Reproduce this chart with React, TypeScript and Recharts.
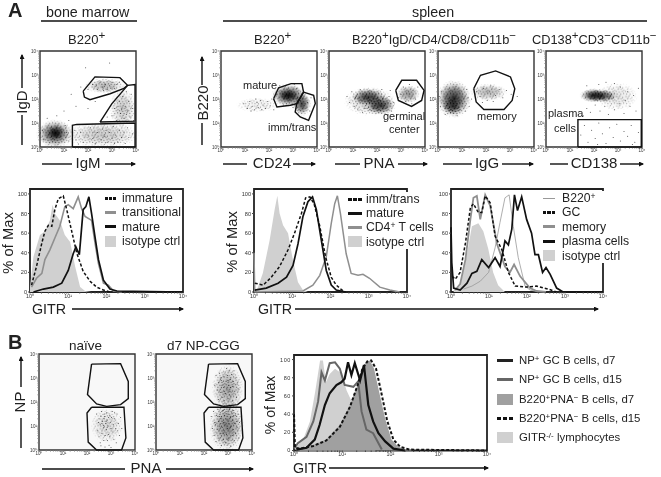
import React from 'react';
import { ScatterChart, Scatter, ComposedChart, Area, Line, XAxis, YAxis, ReferenceArea, Legend } from 'recharts';

type P = number[];
const FONT = '"Liberation Sans", Arial, sans-serif';

// ---- axis ticks (log10 of the fluorescence) ----
const decades = [0, 1, 2, 3, 4];
const decadeLabels = ['10⁰', '10¹', '10²', '10³', '10⁴'];
const minorSteps = [0.3, 0.48, 0.6, 0.7, 0.78, 0.85, 0.9, 0.95];
const pctTicks = [0, 20, 40, 60, 80, 100];

// ---- gates, as [log x, log y] ----
const gateA1Mature: P[] = [[1.8, 2.33], [2.29, 2.92], [3.33, 2.89], [3.65, 2.57], [3.47, 2.43], [2.92, 2.22], [2.08, 1.97], [1.85, 2.08], [1.8, 2.33]];
const gateA1Trans: P[] = [[2.5, 1.04], [2.99, 1.8], [3.65, 2.57], [3.96, 2.6], [3.96, 1.08], [2.5, 1.04]];
const gateA1Imm: P[] = [[1.35, 0], [1.35, 0.9], [1.53, 0.94], [3.96, 1], [3.96, 0], [1.35, 0]];
const gateA2Mature: P[] = [[2.19, 2.01], [2.4, 2.47], [2.92, 2.64], [3.37, 2.64], [3.44, 2.29], [3.16, 1.81], [2.89, 1.74], [2.33, 1.67], [2.19, 2.01]];
const gateA2Imm: P[] = [[3.44, 2.29], [3.86, 2.15], [3.93, 1.81], [3.65, 1.11], [3.3, 1.25], [3.09, 1.46], [3.16, 1.81], [3.44, 2.29]];
const gateA3: P[] = [[2.78, 2.36], [3.03, 2.78], [3.65, 2.78], [3.96, 2.36], [3.86, 1.94], [3.44, 1.69], [2.89, 1.94], [2.78, 2.36]];
const gateA4: P[] = [[1.49, 2.43], [1.77, 2.99], [2.4, 3.17], [3.02, 2.92], [3.2, 2.43], [3.09, 1.94], [2.75, 1.56], [1.91, 1.56], [1.59, 1.88], [1.49, 2.43]];
const gateA5: P[] = [[1.33, 0], [1.33, 1.14], [3.97, 1.14], [3.97, 0], [1.33, 0]];
const gateBUp: P[] = [[2.19, 3.58], [3.4, 3.6], [3.72, 2.86], [3.72, 2.14], [3.4, 1.89], [2.82, 1.82], [2.4, 1.92], [2.02, 2.31], [2.19, 3.58]];
const gateBLow: P[] = [[2.19, 1.78], [3.54, 1.78], [3.62, 0.5], [3.44, 0], [2.4, 0], [2.05, 0.33], [2.0, 1.54], [2.19, 1.78]];

// ---- density clouds: [log x, log y, spread x, spread y, darkness] ----
const cloudA1: P[] = [[0.62, 0.55, 0.72, 0.56, 0.8], [0.65, 0.58, 0.36, 0.3, 0.9], [2.6, 0.5, 1.45, 0.5, 0.22], [2.7, 2.55, 0.8, 0.3, 0.3], [3.45, 1.6, 0.52, 0.8, 0.22]];
const cloudA2: P[] = [[2.82, 2.15, 0.68, 0.46, 0.9], [2.8, 2.15, 0.4, 0.24, 0.7], [3.37, 1.8, 0.36, 0.48, 0.8], [1.5, 1.75, 0.8, 0.28, 0.06]];
const cloudA3: P[] = [[1.64, 2.08, 0.68, 0.36, 0.8], [2.13, 1.74, 0.62, 0.4, 0.85], [1.7, 1.9, 1.0, 0.56, 0.2], [3.3, 2.2, 0.46, 0.36, 0.45]];
const cloudA4: P[] = [[0.66, 2.0, 0.68, 0.74, 0.9], [0.6, 1.7, 0.4, 0.36, 0.6], [2.1, 2.28, 0.72, 0.34, 0.3]];
const cloudA5: P[] = [[2.0, 2.15, 0.56, 0.28, 0.95], [2.35, 2.13, 0.62, 0.26, 0.75], [2.95, 2.1, 0.8, 0.55, 0.1]];
const cloudB1: P[] = [[2.82, 1.02, 0.62, 0.68, 0.12]];
const cloudB2: P[] = [[2.98, 2.55, 0.62, 0.95, 0.35], [2.95, 1.0, 0.68, 1.0, 0.5]];

// ---- individual events ----
const dotsA1: P[] = [[1.5, 0.3], [1.7, 0.6], [1.8, 0.2], [2, 0.5], [2.1, 0.8], [2.2, 0.35], [2.3, 0.15], [2.4, 0.6], [2.55, 0.3], [2.6, 0.75], [2.7, 0.45], [2.8, 0.2], [2.9, 0.6], [3, 0.35], [3.05, 0.85], [3.15, 0.5], [3.25, 0.2], [3.3, 0.7], [3.4, 0.4], [3.5, 0.62], [3.55, 0.15], [3.65, 0.8], [3.7, 0.4], [3.85, 0.55], [1.45, 0.7], [1.6, 0.12], [2.25, 0.62], [2.75, 0.7], [3.1, 0.15], [3, 1.3], [3.1, 1.6], [3.2, 1.1], [3.3, 1.9], [3.35, 1.4], [3.45, 2.1], [3.5, 1.2], [3.55, 1.7], [3.6, 2.3], [3.65, 1.5], [3.7, 1.9], [3.75, 1.25], [3.8, 2.2], [3.85, 1.6], [3.9, 1.1], [2.8, 1.25], [3.25, 1.7], [3.4, 1.55], [3.6, 1.35], [2, 2.4], [2.2, 2.6], [2.4, 2.4], [2.5, 2.7], [2.6, 2.5], [2.7, 2.62], [2.8, 2.4], [2.9, 2.55], [3, 2.7], [3.1, 2.45], [3.2, 2.6], [3.3, 2.7], [2.35, 2.55], [2.65, 2.35], [2.95, 2.45], [1, 1.5], [1.3, 2.2], [1.5, 1.7], [1.7, 2.5], [2, 1.6], [2.3, 1.9], [1.9, 3.3], [2.9, 3.5], [0.7, 1.3], [1.2, 1.1], [0.3, 1.2], [1.1, 0.6], [1.2, 0.25], [0.1, 0.7], [0.15, 0.3], [1.05, 0.9]];
const dotsA2: P[] = [[0.95, 1.8], [1.1, 1.6], [1.2, 1.9], [1.3, 1.7], [1.4, 1.55], [1.5, 1.85], [1.55, 1.65], [1.65, 1.95], [1.75, 1.75], [1.85, 1.6], [1.95, 1.9], [2.05, 1.72], [2.12, 2], [1.25, 1.5], [1.45, 2], [1.7, 1.55], [2.2, 1.55], [2.45, 2.55], [2.3, 2.2], [2.6, 1.75], [3, 1.65], [3.15, 2.45], [3.6, 1.85], [3.7, 1.5], [3.5, 1.2], [3.75, 2.05], [3.05, 2.6]];
const dotsA3: P[] = [[0.75, 2.1], [0.85, 1.85], [0.95, 2.3], [1.05, 1.7], [1.1, 2.05], [1.2, 1.55], [1.3, 2.4], [1.4, 1.45], [1.5, 1.6], [2.5, 2.1], [2.6, 1.5], [2.7, 1.85], [2.55, 2.35], [2.4, 1.35], [2.2, 2.4], [3, 2.2], [3.1, 2.5], [3.2, 1.9], [3.35, 2.6], [3.5, 2.35], [3.6, 2], [3.7, 2.5], [3.45, 1.8], [2.9, 2.05]];
const dotsA4: P[] = [[0.05, 2.1], [0.1, 1.7], [0.15, 2.3], [1.25, 2.05], [1.3, 1.7], [1.2, 2.4], [1.4, 2], [1.15, 1.5], [0.3, 1.35], [0.8, 1.3], [1.6, 2.3], [1.75, 2.1], [1.9, 2.45], [2.05, 1.95], [2.2, 2.55], [2.4, 2.15], [2.55, 2.4], [2.7, 2.05], [2.85, 2.35], [1.85, 1.85], [2.3, 1.9], [3.05, 2.2], [3.3, 2.1]];
const dotsA5: P[] = [[1.45, 0.5], [1.6, 0.9], [1.75, 0.2], [1.9, 0.7], [2.05, 0.35], [2.2, 1], [2.35, 0.55], [2.5, 0.15], [2.65, 0.8], [2.8, 0.4], [2.95, 0.95], [3.1, 0.25], [3.25, 0.65], [3.4, 0.45], [3.55, 0.9], [3.7, 0.2], [3.85, 0.6], [1.55, 1.3], [1.7, 1.6], [1.85, 1.45], [2.05, 1.75], [2.25, 1.5], [2.45, 1.7], [2.6, 1.35], [2.85, 1.55], [3.05, 1.8], [3.25, 1.4], [3.5, 1.7], [3.75, 1.5], [3.1, 2.5], [3.4, 2.3], [3.65, 2.15], [3.85, 2.45], [3.3, 1.95], [2.5, 2.7], [2.2, 2.6], [2.85, 2.65], [1.7, 2.55], [3.6, 0.1], [2.15, 0.1]];
const dotsB1: P[] = [[2.4, 1.5], [2.5, 1.3], [2.55, 1.05], [2.45, 0.8], [2.5, 0.55], [2.55, 0.3], [2.6, 1.6], [2.65, 1.2], [2.7, 0.95], [2.62, 0.7], [2.7, 0.4], [2.75, 1.4], [2.78, 1.1], [2.8, 0.85], [2.82, 1.55], [2.85, 1.25], [2.88, 1], [2.9, 0.65], [2.92, 0.2], [2.95, 1.45], [2.97, 1.15], [3, 0.9], [3.02, 1.35], [3.05, 1.6], [3.08, 0.75], [3.1, 1.05], [3.12, 0.45], [3.15, 1.3], [3.2, 0.9], [3.25, 1.5], [3.3, 1.1], [3.35, 0.6], [3.4, 1.35], [3.45, 0.9], [2.72, 1.3], [2.68, 1.02], [2.58, 1.42], [2.84, 0.95], [2.76, 0.6], [2.95, 0.55], [3, 0.1], [2.75, 0.12], [3.22, 0.3], [2.62, 1.1], [2.8, 1.2], [2.9, 1.35], [2.72, 1.5], [3.15, 1.55], [3.28, 0.8], [2.48, 1.15], [2.58, 0.18], [2.85, 0.4]];
const dotsB2: P[] = [[2.5, 3.1], [2.6, 2.8], [2.65, 3.2], [2.7, 2.4], [2.72, 2.9], [2.78, 2.2], [2.8, 3.05], [2.82, 2.6], [2.88, 3.25], [2.9, 2.35], [2.92, 2.85], [2.95, 2.55], [2.98, 3.1], [3, 2.15], [3.02, 2.7], [3.05, 3.3], [3.08, 2.45], [3.1, 2.95], [3.12, 2.25], [3.15, 3.15], [3.18, 2.65], [3.2, 2.05], [3.22, 2.85], [3.28, 2.45], [3.3, 3], [3.35, 2.2], [3.38, 2.75], [3.42, 2.55], [2.55, 2.5], [2.6, 2.1], [2.45, 2.7], [2.85, 2.05], [3, 2.9], [2.94, 3.4], [3.1, 2.6], [2.75, 2.7], [3.25, 3.3], [2.68, 3], [2.86, 2.45], [3.06, 2.3], [2.3, 1.4], [2.35, 0.9], [2.4, 1.6], [2.42, 0.6], [2.45, 1.15], [2.5, 0.35], [2.52, 1.45], [2.55, 0.85], [2.58, 1.7], [2.6, 1.2], [2.62, 0.5], [2.65, 1], [2.68, 1.55], [2.7, 0.7], [2.72, 0.2], [2.74, 1.3], [2.76, 0.95], [2.78, 1.65], [2.8, 0.45], [2.82, 1.15], [2.84, 0.8], [2.86, 1.45], [2.88, 1.05], [2.9, 0.3], [2.92, 1.6], [2.94, 0.65], [2.96, 1.25], [2.98, 0.9], [3, 1.5], [3.02, 0.5], [3.04, 1.1], [3.06, 1.7], [3.08, 0.75], [3.1, 1.35], [3.12, 0.15], [3.14, 1], [3.16, 1.55], [3.18, 0.6], [3.2, 1.25], [3.22, 0.85], [3.24, 1.65], [3.26, 0.4], [3.28, 1.1], [3.3, 1.45], [3.32, 0.7], [3.35, 1.2], [3.38, 0.95], [3.42, 1.5], [3.45, 0.5], [3.48, 1.15], [2.48, 1.05], [2.64, 1.4], [2.86, 1.7], [2.96, 0.45], [3.1, 0.95], [3.2, 1.4], [2.7, 1.1], [2.8, 0.7], [2.9, 1.3], [3, 0.25]];

// ---- histogram curves: [log GITR, % of max] ----
const h1Iso: P[] = [[0, 5], [0.09, 36], [0.26, 58], [0.39, 62], [0.52, 73], [0.59, 89], [0.65, 80], [0.78, 73], [0.91, 58], [1.05, 51], [1.18, 26], [1.31, 5], [1.44, 1], [1.6, 0]];
const h1Imm: P[] = [[0.04, 7], [0.17, 26], [0.31, 50], [0.39, 62], [0.48, 68], [0.57, 67], [0.65, 84], [0.74, 95], [0.87, 98], [0.96, 84], [1.09, 62], [1.22, 40], [1.39, 21], [1.57, 11], [1.74, 5], [1.92, 2], [2.09, 0]];
const h1Trans: P[] = [[0.04, 5], [0.17, 14], [0.31, 19], [0.39, 33], [0.52, 43], [0.65, 55], [0.78, 67], [0.91, 87], [1, 89], [1.13, 85], [1.26, 97], [1.35, 85], [1.44, 77], [1.61, 73], [1.7, 50], [1.79, 29], [1.92, 9], [2.05, 7], [2.18, 1], [2.4, 0]];
const h1Mature: P[] = [[0.09, 0], [0.35, 3], [0.61, 5], [0.83, 9], [1, 22], [1.13, 39], [1.2, 46], [1.29, 38], [1.39, 84], [1.46, 87], [1.54, 97], [1.61, 80], [1.7, 56], [1.79, 33], [1.92, 12], [2.09, 3], [2.27, 1], [4, 0]];
const h2Iso: P[] = [[0.06, 0], [0.23, 19], [0.41, 53], [0.54, 84], [0.61, 98], [0.67, 80], [0.76, 68], [0.89, 60], [1.02, 32], [1.15, 10], [1.28, 2], [1.41, 0]];
const h2Imm: P[] = [[0.02, 9], [0.24, 7], [0.45, 15], [0.67, 26], [0.89, 43], [1.06, 60], [1.24, 80], [1.35, 96], [1.46, 97], [1.57, 90], [1.72, 67], [1.87, 36], [2.02, 15], [2.15, 7], [2.33, 1]];
const h2Mature: P[] = [[0.02, 2], [0.32, 4], [0.63, 9], [0.85, 15], [1.02, 27], [1.15, 49], [1.28, 77], [1.41, 92], [1.53, 97], [1.63, 84], [1.76, 53], [1.89, 22], [2.02, 7], [2.15, 2], [2.4, 0]];
const h2Cd4: P[] = [[0, 40], [0.02, 0], [1.28, 1], [1.54, 7], [1.72, 17], [1.89, 36], [2.02, 70], [2.11, 90], [2.18, 98], [2.26, 80], [2.41, 39], [2.54, 19], [2.72, 17], [2.85, 18], [3.02, 14], [3.29, 5], [3.55, 2], [3.81, 0]];
const h3Iso: P[] = [[0.07, 2], [0.24, 6], [0.38, 30], [0.55, 67], [0.72, 70], [0.85, 62], [0.98, 44], [1.11, 20], [1.24, 7], [1.42, 0]];
const h3B220: P[] = [[0.33, 3], [0.55, 6], [0.77, 11], [0.99, 20], [1.16, 45], [1.29, 71], [1.42, 96], [1.53, 99], [1.64, 67], [1.77, 35], [1.95, 6], [2.08, 2], [2.3, 0]];
const h3Gc: P[] = [[0.03, 16], [0.11, 13], [0.24, 20], [0.38, 50], [0.51, 86], [0.59, 90], [0.72, 81], [0.81, 81], [0.9, 98], [1.03, 91], [1.16, 57], [1.34, 43], [1.51, 20], [1.69, 6], [1.99, 5], [2.25, 6], [2.56, 3], [2.78, 0]];
const h3Mem: P[] = [[0.11, 2], [0.24, 8], [0.38, 33], [0.51, 74], [0.59, 96], [0.68, 98], [0.77, 74], [0.9, 99], [1.03, 88], [1.21, 49], [1.42, 26], [1.55, 20], [1.66, 28], [1.82, 16], [2.08, 4], [2.25, 1], [2.5, 0]];
const h3Plasma: P[] = [[0, 66], [0.02, 30], [0.07, 4], [0.24, 2], [0.42, 9], [0.55, 19], [0.68, 21], [0.81, 33], [0.99, 25], [1.16, 35], [1.29, 26], [1.42, 52], [1.51, 48], [1.6, 64], [1.67, 99], [1.75, 83], [1.86, 97], [1.99, 74], [2.12, 60], [2.21, 38], [2.3, 38], [2.41, 20], [2.5, 25], [2.61, 18], [2.78, 4], [2.95, 0], [4, 0]];
const hbKo: P[] = [[0.05, 4], [0.19, 12], [0.33, 32], [0.44, 65], [0.54, 99], [0.6, 99], [0.66, 75], [0.74, 84], [0.85, 90], [0.98, 85], [1.09, 66], [1.23, 50], [1.37, 35], [1.47, 10], [1.57, 3], [1.7, 0]];
const hbPnaD7: P[] = [[0.12, 2], [0.4, 6], [0.67, 12], [0.95, 28], [1.16, 50], [1.3, 70], [1.4, 90], [1.49, 97], [1.57, 99], [1.66, 90], [1.75, 68], [1.89, 35], [2.02, 12], [2.16, 4], [2.34, 1], [2.5, 0]];
const hbPnaD15: P[] = [[0, 40], [0.02, 3], [0.12, 2], [0.4, 5], [0.67, 11], [0.95, 26], [1.16, 48], [1.32, 72], [1.42, 90], [1.52, 98], [1.6, 99], [1.7, 90], [1.8, 66], [1.93, 33], [2.06, 12], [2.2, 4], [2.4, 1], [4, 0]];
const hbNpD7: P[] = [[0.05, 1], [0.26, 3], [0.43, 12], [0.53, 28], [0.64, 50], [0.74, 63], [0.88, 72], [0.98, 75], [1.05, 79], [1.12, 97], [1.19, 83], [1.26, 96], [1.37, 77], [1.45, 94], [1.54, 50], [1.64, 32], [1.75, 19], [1.89, 10], [2.06, 2], [2.3, 0]];
const hbNpD15: P[] = [[0, 2], [0.08, 8], [0.26, 15], [0.4, 32], [0.5, 54], [0.57, 86], [0.64, 77], [0.74, 96], [0.85, 97], [0.95, 90], [1.05, 72], [1.23, 70], [1.33, 76], [1.4, 43], [1.5, 23], [1.64, 19], [1.82, 1]];

// ---- legend labels ----
const legendH1 = ['immature', 'transitional', 'mature', 'isotype ctrl'];
const legendH2 = ['imm/trans', 'mature', 'CD4^{+} T cells', 'isotype ctrl'];
const legendH3 = ['B220^{+}', 'GC', 'memory', 'plasma cells', 'isotype ctrl'];
const legendB = ['NP^{+} GC B cells, d7', 'NP^{+} GC B cells, d15', 'B220^{+}PNA^{−} B cells, d7', 'B220^{+}PNA^{−} B cells, d15', 'GITR^{-/-} lymphocytes'];

const rows = (a: P[]) => a.map(([x, y]) => ({ x, y }));
const cloudRows = (a: P[]) => a.map(([x, y, sx, sy, d]) => ({ x, y, sx, sy, d }));
const parts = (s: string) => s.split(/(\^\{.*?\})/).filter(Boolean);
const isSup = (p: string) => p.startsWith('^{');
const supText = (p: string) => p.slice(2, -1);

const allTicks = decades.flatMap((d) => (d < 4 ? [d, ...minorSteps.map((m) => d + m)] : [d]));
const fmtLog = (v: number) => {
  const i = decades.indexOf(v);
  return i >= 0 ? decadeLabels[i] : '';
};

const Speck = (p: any) => <circle cx={p.cx} cy={p.cy} r={0.5} fill="#111" fillOpacity={0.8} />;
const Nothing = () => <g />;
const PX_PER_DECADE = 24;
const Cloud = (p: any) => {
  const rx = p.payload.sx * PX_PER_DECADE;
  const ry = p.payload.sy * PX_PER_DECADE;
  return (
    <g>
      <ellipse cx={p.cx} cy={p.cy} rx={rx} ry={ry} fill="url(#cloudGrad)" opacity={p.payload.d} />
      <ellipse cx={p.cx} cy={p.cy} rx={rx * 1.1} ry={ry * 1.1} fill="url(#stipple)" mask="url(#cloudMask)" opacity={Math.min(1, p.payload.d + 0.45)} />
    </g>
  );
};

function Dot({ left, top, w = 96, h = 96, clouds, dots, gates, bg = 'none' }: any) {
  const ml = 14, mt = 4, mb = 12, mr = 6;
  return (
    <div style={{ position: 'absolute', left: left - ml, top: top - mt }}>
      <ScatterChart width={w + ml + mr} height={h + mt + mb} margin={{ top: mt, right: mr, bottom: 0, left: 0 }}>
        <XAxis type="number" dataKey="x" domain={[0, 4]} ticks={allTicks} interval={0} height={mb} tickFormatter={fmtLog} tick={{ fontSize: 4.5, fill: '#333', fontFamily: FONT }} tickSize={1.5} tickMargin={0.5} axisLine={false} stroke="#777" />
        <YAxis type="number" dataKey="y" domain={[0, 4]} ticks={allTicks} interval={0} width={ml} tickFormatter={fmtLog} tick={{ fontSize: 4.5, fill: '#333', fontFamily: FONT }} tickSize={1.5} tickMargin={0.5} axisLine={false} stroke="#777" />
        <ReferenceArea x1={0} x2={4} y1={0} y2={4} fill={bg} fillOpacity={1} stroke="#333" strokeWidth={1.4} />
        <Scatter data={cloudRows(clouds)} shape={Cloud} isAnimationActive={false} />
        <Scatter data={rows(dots)} shape={Speck} isAnimationActive={false} />
        {gates.map((g: P[], i: number) => (
          <Scatter key={i} data={rows(g)} line={{ stroke: '#111', strokeWidth: 1.4 }} lineType="joint" shape={Nothing} isAnimationActive={false} />
        ))}
      </ScatterChart>
    </div>
  );
}

function Swatch({ k, color }: any) {
  if (k === 'fill') return <div style={{ width: '100%', height: 11, background: color }} />;
  if (k === 'thin') return <div style={{ width: '100%', height: 1, background: color }} />;
  if (k === 'dash')
    return (
      <div style={{ width: '100%', display: 'flex', justifyContent: 'space-between' }}>
        <div style={{ width: '26%', height: 3, background: color }} />
        <div style={{ width: '26%', height: 3, background: color }} />
        <div style={{ width: '26%', height: 3, background: color }} />
      </div>
    );
  return <div style={{ width: '100%', height: 3, background: color }} />;
}

function Hist({ left, top, w, h, series, legend, yWide }: any) {
  const ml = 18, mt = 3, mb = 12, mr = 6;
  const lg = legend;
  return (
    <div style={{ position: 'absolute', left: left - ml, top: top - mt }}>
      <ComposedChart width={w + ml + mr} height={h + mt + mb} margin={{ top: mt, right: mr, bottom: 0, left: 0 }}>
        <XAxis type="number" dataKey="x" domain={[0, 4]} ticks={allTicks} interval={0} height={mb} allowDuplicatedCategory={false} tickFormatter={fmtLog} tick={{ fontSize: 5.4, fill: '#333', fontFamily: FONT }} tickSize={1.5} tickMargin={0.5} axisLine={false} stroke="#444" />
        <YAxis type="number" domain={[0, 105]} ticks={pctTicks} interval={0} width={ml} tick={{ fontSize: yWide ? 5.5 : 5.6, fill: '#333', fontFamily: FONT, letterSpacing: yWide ? 0.6 : 0 }} tickSize={2} tickMargin={1} axisLine={false} stroke="#444" />
        <ReferenceArea x1={0} x2={4} y1={0} y2={105} fill="none" stroke="#222" strokeWidth={1.8} />
        {series.map((s: any) =>
          s.k === 'fill' ? (
            <Area key={s.name} name={s.name} data={rows(s.d)} dataKey="y" type="linear" fill={s.c} fillOpacity={1} stroke="none" dot={false} activeDot={false} isAnimationActive={false} />
          ) : (
            <Line key={s.name} name={s.name} data={rows(s.d)} dataKey="y" type="linear" stroke={s.c} strokeWidth={s.sw} strokeDasharray={s.dash} dot={false} activeDot={false} isAnimationActive={false} />
          ),
        )}
        <Legend
          layout="vertical"
          align="center"
          verticalAlign="middle"
          wrapperStyle={{ left: lg.x - left + ml, top: lg.y - top + mt, width: lg.w, height: lg.step * lg.items.length, background: lg.bg ? '#fff' : 'transparent' }}
          content={() => (
            <div style={{ position: 'relative', fontFamily: FONT, fontSize: lg.fs, lineHeight: 1, color: '#222', whiteSpace: 'nowrap' }}>
              {lg.items.map((it: any, i: number) => (
                <div key={i} style={{ position: 'absolute', left: 0, top: i * lg.step, height: lg.step, display: 'flex', alignItems: 'center' }}>
                  <div style={{ width: lg.sw, marginRight: lg.gap, display: 'flex', alignItems: 'center', justifyContent: 'center', flex: 'none' }}>
                    <Swatch k={it.k} color={it.c} />
                  </div>
                  <span>
                    {parts(it.t).map((p, j) =>
                      isSup(p) ? (
                        <span key={j} style={{ fontSize: '0.7em', position: 'relative', top: '-0.35em' }}>{supText(p)}</span>
                      ) : (
                        <span key={j}>{p}</span>
                      ),
                    )}
                  </span>
                </div>
              ))}
            </div>
          )}
        />
      </ComposedChart>
    </div>
  );
}

function T({ x, y, s, fs = 13, anchor = 'start', rot, weight }: any) {
  const transform = rot ? `rotate(-90 ${x} ${y})` : undefined;
  const ps = parts(s);
  let pending = 0;
  return (
    <text x={x} y={y} fontSize={fs} textAnchor={anchor} fontWeight={weight} transform={transform} fill="#222" fontFamily={FONT}>
      {ps.map((p, i) => {
        if (isSup(p)) {
          pending = fs * 0.4;
          return <tspan key={i} dy={-pending} fontSize={fs * 0.9}>{supText(p)}</tspan>;
        }
        const dy = pending;
        pending = 0;
        return <tspan key={i} dy={dy || undefined}>{p}</tspan>;
      })}
    </text>
  );
}

const Arrow = ({ x1, y1, x2, y2 }: any) => (
  <line x1={x1} y1={y1} x2={x2} y2={y2} stroke="#111" strokeWidth={1.4} markerEnd="url(#arrowHead)" />
);
const Seg = ({ x1, y1, x2, y2, sw = 1.4 }: any) => <line x1={x1} y1={y1} x2={x2} y2={y2} stroke="#111" strokeWidth={sw} />;

function Notes() {
  return (
    <svg width={661} height={477} style={{ position: 'absolute', left: 0, top: 0 }}>
      <defs>
        <radialGradient id="cloudGrad">
          <stop offset="0%" stopColor="#000" stopOpacity={0.95} />
          <stop offset="50%" stopColor="#111" stopOpacity={0.6} />
          <stop offset="85%" stopColor="#333" stopOpacity={0.12} />
          <stop offset="100%" stopColor="#555" stopOpacity={0} />
        </radialGradient>
        <radialGradient id="maskGrad">
          <stop offset="0%" stopColor="#fff" stopOpacity={1} />
          <stop offset="65%" stopColor="#fff" stopOpacity={0.8} />
          <stop offset="100%" stopColor="#fff" stopOpacity={0} />
        </radialGradient>
        <mask id="cloudMask" maskContentUnits="objectBoundingBox">
          <rect x={0} y={0} width={1} height={1} fill="url(#maskGrad)" />
        </mask>
        <pattern id="stipple" patternUnits="userSpaceOnUse" width={9.3} height={9.7}>
          {[[1, 1], [4, 0.6], [7, 2], [2.6, 3.5], [5.6, 3.1], [8.3, 4.6], [0.6, 5.6], [3.6, 6.1], [6.6, 5.6], [1.6, 8.1], [5, 8.4], [8, 7.6], [3, 1.9]].map(([x, y], i) => (
            <circle key={i} cx={x} cy={y} r={0.55} fill="#000" />
          ))}
        </pattern>
        <marker id="arrowHead" viewBox="0 0 10 10" refX="8" refY="5" markerWidth="6.5" markerHeight="5" orient="auto" markerUnits="userSpaceOnUse">
          <path d="M0 0L10 5L0 10z" fill="#111" />
        </marker>
      </defs>
      <T x={8} y={17} s="A" fs={20} weight="bold" />
      <T x={8} y={349} s="B" fs={20} weight="bold" />
      <T x={46} y={16.5} s="bone marrow" fs={14.3} />
      <T x={412} y={16.5} s="spleen" fs={14.3} />
      <Seg x1={41} y1={21} x2={137} y2={21} sw={1.5} />
      <Seg x1={223} y1={21} x2={647} y2={21} sw={1.5} />
      <T x={68} y={44} s="B220^{+}" fs={13} />
      <T x={254} y={44} s="B220^{+}" fs={13} />
      <T x={352} y={44} s="B220^{+}IgD/CD4/CD8/CD11b^{−}" fs={12.8} />
      <T x={532} y={44} s="CD138^{+}CD3^{−}CD11b^{−}" fs={12.8} />

      <T x={27} y={102} s="IgD" fs={15} anchor="middle" rot />
      <Seg x1={22} y1={145} x2={22} y2={115} />
      <Arrow x1={22} y1={88} x2={22} y2={55} />
      <T x={88} y={168} s="IgM" fs={15} anchor="middle" />
      <Seg x1={42} y1={164} x2={72} y2={164} />
      <Arrow x1={105} y1={164} x2={135} y2={164} />

      <T x={208} y={103} s="B220" fs={15} anchor="middle" rot />
      <Seg x1={202} y1={145} x2={202} y2={123} />
      <Arrow x1={202} y1={85} x2={202} y2={57} />
      <T x={272} y={168} s="CD24" fs={15} anchor="middle" />
      <Seg x1={223} y1={164} x2={247} y2={164} />
      <Arrow x1={293} y1={164} x2={315} y2={164} />
      <T x={379} y={168} s="PNA" fs={15} anchor="middle" />
      <Seg x1={335} y1={164} x2={360} y2={164} />
      <Arrow x1={398} y1={164} x2={427} y2={164} />
      <T x={487} y={168} s="IgG" fs={15} anchor="middle" />
      <Seg x1={443} y1={164} x2={472} y2={164} />
      <Arrow x1={502} y1={164} x2={533} y2={164} />
      <T x={594} y={168} s="CD138" fs={15} anchor="middle" />
      <Seg x1={550} y1={164} x2={568} y2={164} />
      <Arrow x1={620} y1={164} x2={643} y2={164} />

      <T x={13} y={243} s="% of Max" fs={14.8} anchor="middle" rot />
      <T x={237} y={242} s="% of Max" fs={14.8} anchor="middle" rot />
      <T x={32} y={314} s="GITR" fs={14.3} />
      <Arrow x1={72} y1={309} x2={183} y2={309} />
      <T x={258} y={314} s="GITR" fs={14.3} />
      <Arrow x1={295} y1={309} x2={598} y2={309} />

      <T x={69} y={350} s="naïve" fs={13.5} />
      <T x={167} y={350} s="d7 NP-CGG" fs={13.5} />
      <T x={25} y={402} s="NP" fs={15} anchor="middle" rot />
      <Seg x1={21} y1={448} x2={21} y2={418} />
      <Arrow x1={21} y1={387} x2={21} y2={357} />
      <T x={146} y={473} s="PNA" fs={15} anchor="middle" />
      <Seg x1={42} y1={469} x2={125} y2={469} />
      <Arrow x1={166} y1={469} x2={253} y2={469} />
      <T x={275} y={405} s="% of Max" fs={14} anchor="middle" rot />
      <T x={293} y={473} s="GITR" fs={14.3} />
      <Arrow x1={329} y1={468} x2={488} y2={468} />
    </svg>
  );
}

function Labels() {
  return (
    <svg width={661} height={477} style={{ position: 'absolute', left: 0, top: 0, pointerEvents: 'none' }}>
      <T x={243} y={89} s="mature" fs={11} />
      <T x={268} y={131} s="imm/trans" fs={11} />
      <T x={383} y={120} s="germinal" fs={11} />
      <T x={389} y={133} s="center" fs={11} />
      <T x={477} y={120} s="memory" fs={11} />
      <T x={548} y={117} s="plasma" fs={11} />
      <T x={554} y={132} s="cells" fs={11} />
    </svg>
  );
}

const GREY = '#d0d0d0';
const MID = '#8f8f8f';

const seriesH1 = [
  { name: 'isotype ctrl', k: 'fill', d: h1Iso, c: GREY },
  { name: 'transitional', k: 'line', d: h1Trans, c: MID, sw: 1.6 },
  { name: 'immature', k: 'line', d: h1Imm, c: '#111', sw: 1.5, dash: '3 2' },
  { name: 'mature', k: 'line', d: h1Mature, c: '#111', sw: 1.7 },
];
const seriesH2 = [
  { name: 'isotype ctrl', k: 'fill', d: h2Iso, c: GREY },
  { name: 'CD4 T cells', k: 'line', d: h2Cd4, c: MID, sw: 1.5 },
  { name: 'imm/trans', k: 'line', d: h2Imm, c: '#111', sw: 1.5, dash: '3 2' },
  { name: 'mature', k: 'line', d: h2Mature, c: '#111', sw: 1.7 },
];
const seriesH3 = [
  { name: 'isotype ctrl', k: 'fill', d: h3Iso, c: GREY },
  { name: 'B220', k: 'line', d: h3B220, c: '#999', sw: 0.8 },
  { name: 'memory', k: 'line', d: h3Mem, c: MID, sw: 1.8 },
  { name: 'GC', k: 'line', d: h3Gc, c: '#111', sw: 1.5, dash: '3 2' },
  { name: 'plasma cells', k: 'line', d: h3Plasma, c: '#111', sw: 1.7 },
];
const seriesB = [
  { name: 'GITR-/- lymphocytes', k: 'fill', d: hbKo, c: GREY },
  { name: 'B220 PNA- d7', k: 'fill', d: hbPnaD7, c: '#a0a0a0' },
  { name: 'NP GC d15', k: 'line', d: hbNpD15, c: '#666', sw: 2 },
  { name: 'B220 PNA- d15', k: 'line', d: hbPnaD15, c: '#111', sw: 2, dash: '3 2' },
  { name: 'NP GC d7', k: 'line', d: hbNpD7, c: '#111', sw: 2.2 },
];

const legH1 = {
  x: 105, y: 191, w: 76, step: 14.4, fs: 12.2, sw: 11, gap: 6,
  items: [
    { t: legendH1[0], k: 'dash', c: '#111' },
    { t: legendH1[1], k: 'line', c: MID },
    { t: legendH1[2], k: 'line', c: '#111' },
    { t: legendH1[3], k: 'fill', c: GREY },
  ],
};
const legH2 = {
  x: 348, y: 192, w: 90, step: 14.2, fs: 12.2, sw: 14, gap: 4, bg: true,
  items: [
    { t: legendH2[0], k: 'dash', c: '#111' },
    { t: legendH2[1], k: 'line', c: '#111' },
    { t: legendH2[2], k: 'line', c: MID },
    { t: legendH2[3], k: 'fill', c: GREY },
  ],
};
const legH3 = {
  x: 543, y: 191, w: 90, step: 14.4, fs: 12.2, sw: 12, gap: 7, bg: true,
  items: [
    { t: legendH3[0], k: 'thin', c: '#999' },
    { t: legendH3[1], k: 'dash', c: '#111' },
    { t: legendH3[2], k: 'line', c: MID },
    { t: legendH3[3], k: 'line', c: '#111' },
    { t: legendH3[4], k: 'fill', c: GREY },
  ],
};
const legB = {
  x: 497, y: 351, w: 160, step: 19.3, fs: 11.4, sw: 16, gap: 6,
  items: [
    { t: legendB[0], k: 'line', c: '#222' },
    { t: legendB[1], k: 'line', c: '#666' },
    { t: legendB[2], k: 'fill', c: '#a0a0a0' },
    { t: legendB[3], k: 'dash', c: '#111' },
    { t: legendB[4], k: 'fill', c: GREY },
  ],
};

export default function App() {
  return (
    <div style={{ position: 'absolute', left: 0, top: 0, width: 661, height: 477, background: '#fff', overflow: 'hidden', filter: 'blur(0.3px)' }}>
      <Notes />
      <Dot left={40} top={51} clouds={cloudA1} dots={dotsA1} gates={[gateA1Mature, gateA1Trans, gateA1Imm]} />
      <Dot left={221} top={51} clouds={cloudA2} dots={dotsA2} gates={[gateA2Mature, gateA2Imm]} />
      <Dot left={329} top={51} clouds={cloudA3} dots={dotsA3} gates={[gateA3]} />
      <Dot left={437.5} top={51} clouds={cloudA4} dots={dotsA4} gates={[gateA4]} />
      <Dot left={545.5} top={51} clouds={cloudA5} dots={dotsA5} gates={[gateA5]} />
      <Labels />
      <Hist left={30} top={189} w={153} h={103} series={seriesH1} legend={legH1} />
      <Hist left={254} top={189} w={153} h={103} series={seriesH2} legend={legH2} />
      <Hist left={451} top={189} w={152} h={103} series={seriesH3} legend={legH3} />
      <Dot left={39} top={354} clouds={cloudB1} dots={dotsB1} gates={[gateBUp, gateBLow]} bg="#f8f8f8" />
      <Dot left={156} top={354} clouds={cloudB2} dots={dotsB2} gates={[gateBUp, gateBLow]} bg="#f8f8f8" />
      <Hist left={294} top={355} w={193} h={95.5} series={seriesB} legend={legB} yWide />
    </div>
  );
}
